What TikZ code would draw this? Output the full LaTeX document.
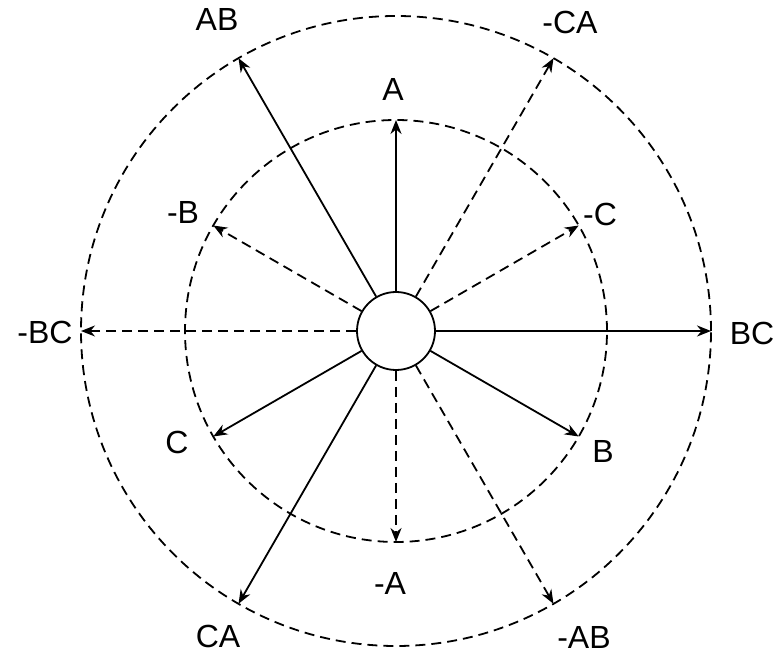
\documentclass[tikz,border=0pt]{standalone}
\usepackage{fontspec}
\setmainfont{Liberation Sans}
\usetikzlibrary{arrows.meta}
\begin{document}
\begin{tikzpicture}[x=1pt,y=1pt,
  ring/.style={draw, line width=1.8pt, dash pattern=on 10pt off 6pt},
  solidarrow/.style={draw, line width=1.8pt, -{Stealth[length=14pt,width=11pt]}},
  dasharrow/.style={draw, line width=1.8pt, dash pattern=on 10pt off 6pt, -{Stealth[length=14pt,width=11pt]}},
  lab/.style={font=\fontsize{32}{38}\selectfont, inner sep=0pt}]
\useasboundingbox (0,0) rectangle (783,658);
\coordinate (c) at (396,327);
\draw[ring] (c) circle (315);
\draw[ring] (c) circle (211);
\node[draw, circle, line width=1.8pt, minimum size=78pt, inner sep=0pt, fill=white] (o) at (c) {};
% tips
\coordinate (tA)   at ([shift={(90:211)}]c);
\coordinate (tmC)  at ([shift={(30:211)}]c);
\coordinate (tB)   at ([shift={(-30:211)}]c);
\coordinate (tmA)  at ([shift={(-90:211)}]c);
\coordinate (tC)   at ([shift={(-150:211)}]c);
\coordinate (tmB)  at ([shift={(150:211)}]c);
\coordinate (tAB)  at ([shift={(120:315)}]c);
\coordinate (tmCA) at ([shift={(60:315)}]c);
\coordinate (tBC)  at ([shift={(0:315)}]c);
\coordinate (tmAB) at ([shift={(-60:315)}]c);
\coordinate (tCA)  at ([shift={(-120:315)}]c);
\coordinate (tmBC) at ([shift={(180:315)}]c);
% arrows
\draw[solidarrow] (o) -- (tA);
\draw[solidarrow] (o) -- (tB);
\draw[solidarrow] (o) -- (tC);
\draw[solidarrow] (o) -- (tAB);
\draw[solidarrow] (o) -- (tBC);
\draw[solidarrow] (o) -- (tCA);
\draw[dasharrow] (o) -- (tmA);
\draw[dasharrow] (o) -- (tmB);
\draw[dasharrow] (o) -- (tmC);
\draw[dasharrow] (o) -- (tmAB);
\draw[dasharrow] (o) -- (tmBC);
\draw[dasharrow] (o) -- (tmCA);
% labels
\node[lab] (lA)   at (393,568) {A};
\node[lab] (lAB)  at (217,638) {AB};
\node[lab] (lmCA) at (570,636) {-CA};
\node[lab] (lmB)  at (183,446) {-B};
\node[lab] (lmC)  at (600,444) {-C};
\node[lab] (lmBC) at (45,326)  {-BC};
\node[lab] (lBC)  at (752,325) {BC};
\node[lab] (lC)   at (177,216) {C};
\node[lab] (lB)   at (603,207) {B};
\node[lab] (lmA)  at (390,75)  {-A};
\node[lab] (lCA)  at (218,22)  {CA};
\node[lab] (lmAB) at (584,21)  {-AB};
\end{tikzpicture}
\end{document}
